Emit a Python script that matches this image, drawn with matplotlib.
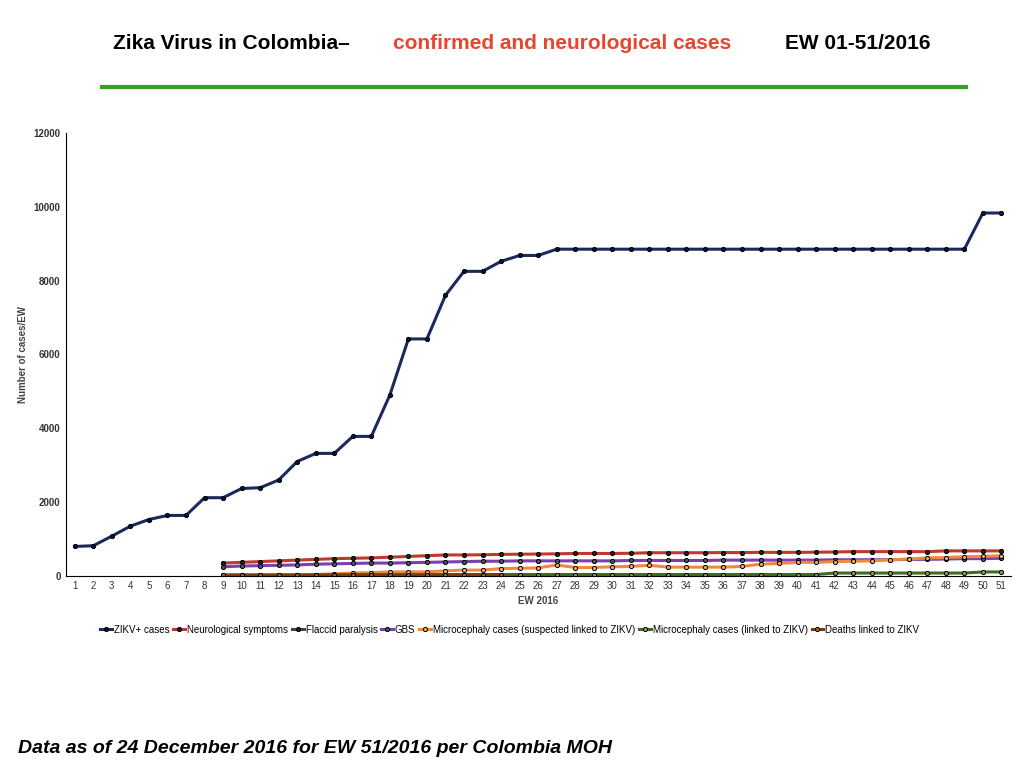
import matplotlib.pyplot as plt
import numpy as np

plt.rcParams['font.family'] = ['Liberation Sans', 'DejaVu Sans']

weeks = list(range(1, 52))
zikv = [800, 820, 1080, 1350, 1530, 1640, 1640, 2120, 2120, 2370, 2390, 2600, 3100, 3320,
        3320, 3780, 3780, 4900, 6420, 6420, 7600, 8250, 8250, 8520, 8680, 8680] + [8850] * 23 + [9830, 9830]
late_weeks = list(range(9, 52))
neuro = [350, 370, 390, 410, 430, 450, 470, 480, 490, 510, 530, 550, 570, 570, 575, 585, 590, 595,
         600, 610, 610, 610, 615, 630, 630, 630, 630, 635, 635, 640, 640, 640, 645, 650, 660, 660,
         660, 660, 660, 680, 680, 680, 680]
gbs = [250, 270, 280, 290, 300, 320, 330, 340, 350, 350, 360, 370, 380, 390, 400, 400, 410, 410,
       410, 410, 410, 410, 420, 420, 420, 420, 420, 430, 430, 430, 430, 430, 430, 440, 440, 440,
       440, 450, 450, 460, 470, 470, 480]
micro_susp = [20, 20, 20, 20, 20, 40, 60, 80, 90, 110, 110, 110, 140, 160, 160, 200, 210, 220, 300,
              230, 230, 250, 260, 290, 240, 240, 240, 240, 260, 320, 340, 370, 370, 390, 400, 410,
              440, 460, 490, 500, 520, 530, 550]
micro_linked = [15, 15, 15, 20, 20, 20, 20, 25, 25, 25, 25, 30, 30, 30, 30] + [40] * 18 + [80] * 8 + [110, 110]
flaccid_weeks = list(range(9, 25))
flaccid = [10, 10, 10, 10, 15, 15, 15, 15, 20, 20, 20, 20, 20, 25, 25, 25]
deaths = [30, 30, 30, 30, 30, 30, 30, 35, 35, 35, 35, 35, 35, 40, 40, 40]

fig = plt.figure(figsize=(10.24, 7.68), dpi=100)
ax = fig.add_axes([0.064, 0.25, 0.923, 0.577])

series = [
    ("ZIKV+ cases", weeks, zikv, "#1b2a5e", "#111133"),
    ("Neurological symptoms", late_weeks, neuro, "#c0392b", "#222222"),
    ("Flaccid paralysis", flaccid_weeks, flaccid, "#444444", "#222222"),
    ("GBS", late_weeks, gbs, "#7b3fb0", "#555555"),
    ("Microcephaly cases (suspected linked to ZIKV)", late_weeks, micro_susp, "#ee8a3c", "#e8b070"),
    ("Microcephaly cases (linked to ZIKV)", late_weeks, micro_linked, "#3f6b22", "#999955"),
    ("Deaths linked to ZIKV", flaccid_weeks, deaths, "#7a3d12", "#aa6633"),
]
for name, x, y, c, mfc in series:
    ax.plot(x, y, color=c, lw=2.2, marker="o", ms=3, mfc=mfc, mec="black", mew=0.7, label=name)

ax.set_xlim(0.5, 51.5)
ax.set_ylim(0, 12000)
ax.set_xticks(weeks)
ax.set_yticks(range(0, 12001, 2000))
ax.tick_params(labelsize=7, length=0, colors="#333333")
for lbl in ax.get_yticklabels():
    lbl.set_fontweight("bold")
ax.set_xlabel("EW 2016", fontsize=7, fontweight="bold", color="#444444")
ax.set_ylabel("Number of cases/EW", fontsize=7, fontweight="bold", color="#444444")
for s in ["top", "right"]:
    ax.spines[s].set_visible(False)
ax.legend(loc="upper center", bbox_to_anchor=(0.47, -0.09), ncol=7, fontsize=7, frameon=False,
          handlelength=1.2, handletextpad=0.2, columnspacing=0.4)

fig.text(0.110, 0.943, "Zika Virus in Colombia–", fontsize=15, fontweight="bold", ha="left", va="center")
fig.text(0.384, 0.943, "confirmed and neurological cases", fontsize=15, fontweight="bold",
         color="#e8452c", ha="left", va="center")
fig.text(0.767, 0.943, "EW 01-51/2016", fontsize=15, fontweight="bold", ha="left", va="center")
fig.add_artist(plt.Line2D([0.1, 0.943], [0.887, 0.887], color="#3a9a2a", lw=3))
fig.text(0.018, 0.025, "Data as of 24 December 2016 for EW 51/2016 per Colombia MOH", fontsize=14,
         fontweight="bold", style="italic", ha="left", va="center")

fig.savefig("out.png", dpi=100)
